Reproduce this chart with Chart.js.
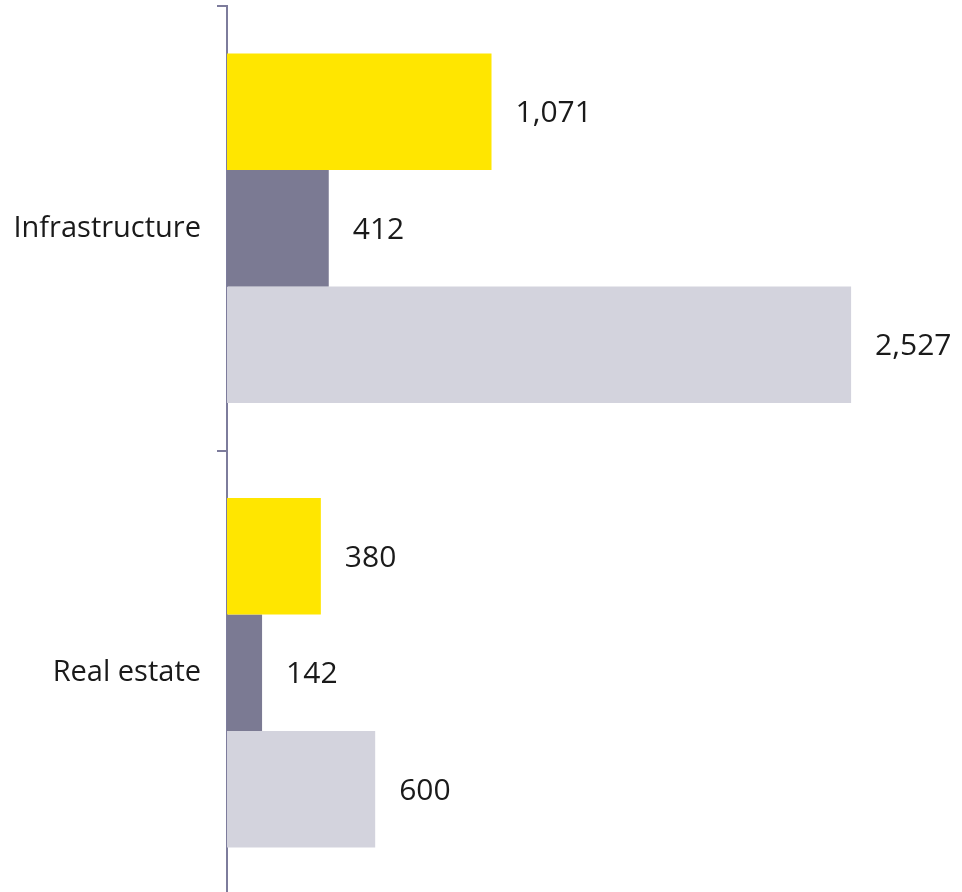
<!DOCTYPE html>
<html>
<head>
<meta charset="utf-8">
<script src="https://cdn.jsdelivr.net/npm/chart.js@4"></script>
<style>
  html, body { margin: 0; padding: 0; background: #ffffff; overflow: hidden; }
  #wrap { width: 962px; height: 895px; position: relative; }
</style>
</head>
<body>
<div id="wrap"><canvas id="assetChart"></canvas></div>
<script>
// kategori dan nilai per seri
const categories = ['Infrastructure', 'Real estate'];
const seriesA = [1071, 380];
const seriesB = [412, 142];
const seriesC = [2527, 600];
const seriesColors = ['#ffe600', '#7b7a93', '#d3d3dd'];

const FONT = '"Open Sans", sans-serif';

// plugin untuk menulis nilai di ujung setiap batang
const valueLabels = {
    id: 'valueLabels',
    afterDatasetsDraw(chart) {
        const ctx = chart.ctx;
        ctx.save();
        ctx.font = '30px ' + FONT;
        ctx.fillStyle = '#1a1a1a';
        ctx.textBaseline = 'middle';
        ctx.textAlign = 'left';
        chart.data.datasets.forEach((ds, i) => {
            chart.getDatasetMeta(i).data.forEach((bar, j) => {
                ctx.fillText(ds.data[j].toLocaleString('en-US'), bar.x + 24, bar.y + 2);
            });
        });
        ctx.restore();
    }
};

const ctx = document.getElementById('assetChart').getContext('2d');
new Chart(ctx, {
    type: 'bar',
    data: {
        labels: categories,
        datasets: [
            { data: seriesA, backgroundColor: seriesColors[0] },
            { data: seriesB, backgroundColor: seriesColors[1] },
            { data: seriesC, backgroundColor: seriesColors[2] }
        ]
    },
    options: {
        indexAxis: 'y',
        responsive: true,
        maintainAspectRatio: false,
        animation: false,
        barPercentage: 1,
        categoryPercentage: 0.786,
        layout: { padding: { top: 6, right: 0, bottom: 0, left: 0 } },
        plugins: {
            legend: { display: false },
            tooltip: { enabled: false }
        },
        scales: {
            x: {
                display: false,
                min: 0,
                max: 2976
            },
            y: {
                afterFit: function(scale) {
                    scale.width = 227;
                    scale.paddingTop = 0;
                    scale.paddingBottom = 0;
                },
                border: { color: '#7d7c9c', width: 2 },
                grid: {
                    drawOnChartArea: false,
                    tickLength: 10,
                    color: '#7d7c9c',
                    lineWidth: 2
                },
                ticks: {
                    color: '#1a1a1a',
                    padding: 16,
                    font: { family: FONT, size: 29 }
                }
            }
        }
    },
    plugins: [valueLabels]
});
</script>
</body>
</html>
